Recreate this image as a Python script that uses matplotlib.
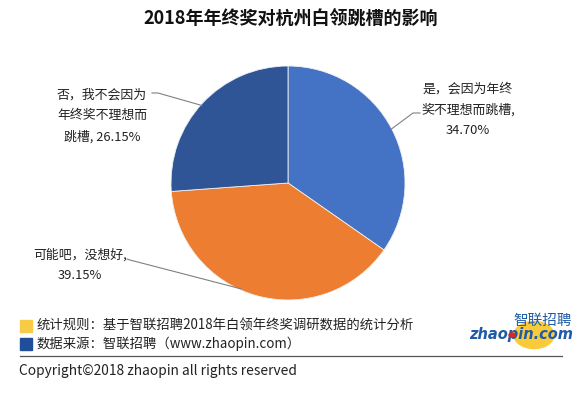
import numpy as np
import matplotlib
matplotlib.use("Agg")
from matplotlib import pyplot as plt
from matplotlib.patches import Circle, Rectangle
from matplotlib.lines import Line2D

plt.rcParams['font.family'] = ['Noto Sans CJK SC', 'DejaVu Sans']

W, H = 583, 394

title = "2018年年终奖对杭州白领跳槽的影响"
labels = ["是，会因为年终\n奖不理想而跳槽,\n34.70%",
          "可能吧，没想好,\n39.15%",
          "否，我不会因为\n年终奖不理想而\n跳槽, 26.15%"]
values = [34.70, 39.15, 26.15]
colors = ["#4472C4", "#ED7D31", "#2F5597"]
notes = ["统计规则：基于智联招聘2018年白领年终奖调研数据的统计分析",
         "数据来源：智联招聘（www.zhaopin.com）"]
note_colors = ["#F7CB45", "#1F4E9A"]
copyright_text = "Copyright©2018 zhaopin all rights reserved"


def fx(x):
    return x / W


def fy(y):
    return 1 - y / H


fig = plt.figure(figsize=(W / 100, H / 100), dpi=100)

# pie
cx, cy, r = 288, 183, 117
ax = fig.add_axes([fx(cx - r), fy(cy + r), 2 * r / W, 2 * r / H])
wedges, _ = ax.pie(values, colors=colors, startangle=90, counterclock=False,
                   wedgeprops=dict(linewidth=0.6, edgecolor="#f0f0f0"))
ax.set_xlim(-1, 1)
ax.set_ylim(-1, 1)
ax.set_aspect("equal")
ax.axis("off")

fig.text(fx(290.5), fy(19), title, ha="center", va="center",
         fontsize=13, fontweight="bold", color="#111111")

# labels: (text center x, text center y, start point, elbow point, angle on pie)
label_pos = [(468, 110, (420, 113), (413, 113), 27.5),
             (80, 265, (127, 259), (130, 260), 246),
             (102, 116, (152, 93), (158, 93), 138)]
for w, lab, (tx, ty, p0, p1, ang) in zip(wedges, labels, label_pos):
    a = np.deg2rad(ang)
    ex = cx + r * 0.99 * np.cos(a)
    ey = cy - r * 0.99 * np.sin(a)
    fig.lines.append(Line2D([fx(p0[0]), fx(p1[0]), fx(ex)],
                            [fy(p0[1]), fy(p1[1]), fy(ey)],
                            transform=fig.transFigure, color="#808080", lw=0.8))
    fig.text(fx(tx), fy(ty), lab, ha="center", va="center", fontsize=9.3,
             color="#222222", linespacing=1.75)

# notes
for i, (t, c) in enumerate(zip(notes, note_colors)):
    y = 326 + i * 18
    fig.patches.append(Rectangle((fx(20), fy(y + 6)), 12 / W, 12 / H,
                                 transform=fig.transFigure, color=c))
    fig.text(fx(37), fy(y), t, ha="left", va="center", fontsize=9.6, color="#222222")

fig.lines.append(Line2D([fx(20), fx(562)], [fy(356), fy(356)],
                        transform=fig.transFigure, color="#555555", lw=0.9))
fig.text(fx(19), fy(371), copyright_text, ha="left", va="center", fontsize=9.9,
         color="#222222")

# logo
fig.patches.append(Circle((fx(534), fy(335)), 20 / W, transform=fig.transFigure,
                          color="#F9CB3A", zorder=1))
fig.text(fx(572), fy(321), "智联招聘", ha="right", va="center", fontsize=10.5,
         color="#1F5BA8", style="italic", zorder=3)
fig.text(fx(573), fy(334), "zhaopin.com", ha="right", va="center", fontsize=10.5,
         fontweight="bold", style="italic", color="#1F5BA8", zorder=3,
         family="DejaVu Sans")
fig.patches.append(Circle((fx(512), fy(335)), 3 / W, transform=fig.transFigure,
                          color="#D9262B", zorder=4))

fig.savefig("out.png", dpi=100)
